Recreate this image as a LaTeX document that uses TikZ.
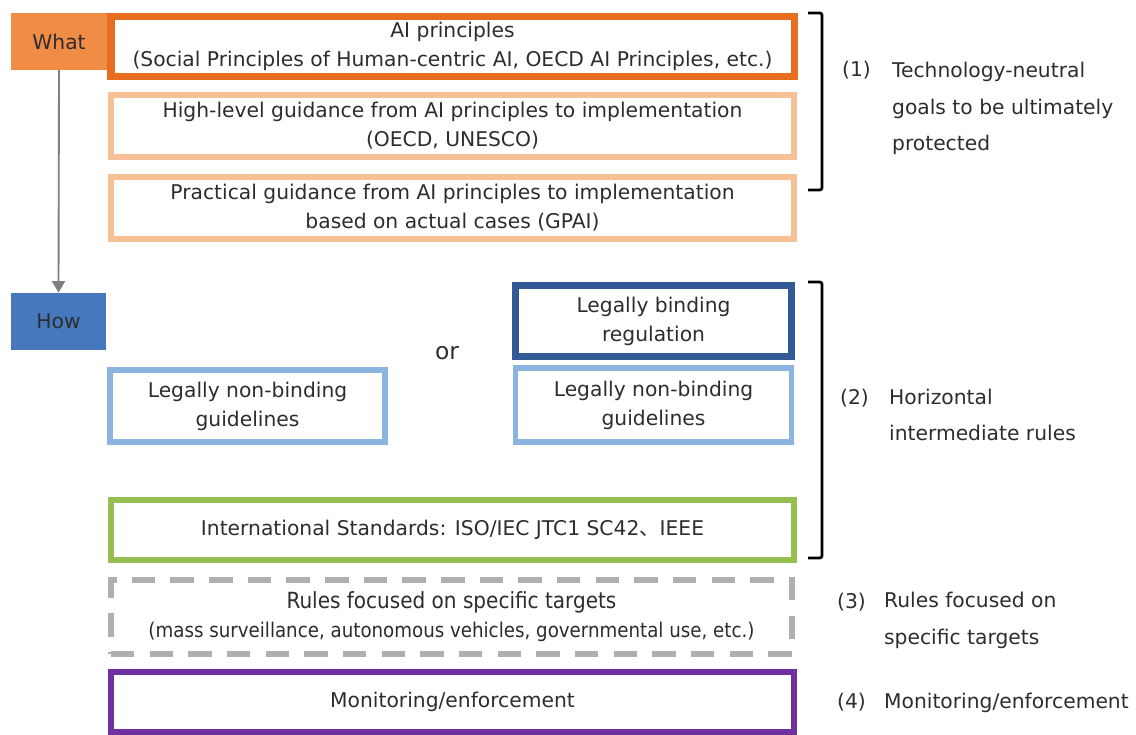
\documentclass[tikz,border=0pt]{standalone}
\usepackage{fontspec}
\setmainfont{DejaVu Sans}
\newfontfamily\condfont{DejaVu Sans Condensed}
\newfontfamily\cjk{Noto Sans CJK JP}
\usetikzlibrary{arrows.meta}
\definecolor{whatorange}{RGB}{240,140,70}
\definecolor{aiorange}{RGB}{230,110,30}
\definecolor{lightorange}{RGB}{248,192,150}
\definecolor{howblue}{RGB}{70,120,190}
\definecolor{darkblue}{RGB}{50,90,150}
\definecolor{lightblue}{RGB}{140,180,225}
\definecolor{isogreen}{RGB}{150,190,80}
\definecolor{rulegray}{RGB}{175,175,175}
\definecolor{monpurple}{RGB}{112,48,160}
\definecolor{txtgray}{RGB}{45,45,45}

\begin{document}
\begin{tikzpicture}[x=0.03cm,y=-0.03cm,line cap=butt,line join=miter,
    every node/.style={text=txtgray,font=\fontsize{17.3}{24.7}\selectfont},
    tag/.style={minimum width=2.85cm,minimum height=1.71cm,inner sep=0pt},
    box/.style={draw,fill=white,line width=5pt,align=center,inner sep=0pt},
    wide/.style={box,minimum width=20.49cm,minimum height=1.86cm},
    half/.style={box,minimum width=8.28cm,minimum height=2.2cm},
    side/.style={anchor=base west,align=left,font=\fontsize{17.3}{31.5}\selectfont}]
        \useasboundingbox (0,0) rectangle (1136,735);

        % What / How
        \node[tag,fill=whatorange] (what) at (59,41.5) {What};
        \node[tag,fill=howblue] (how) at (58.5,321.5) {How};
        \draw[gray,line width=1.6pt,-{Triangle[length=10pt,width=11pt]}] (what.south) -- (how.north);

        % Technology-neutral goals
        \node[wide,draw=aiorange,line width=6pt,minimum height=1.8cm] (ai) at (452.5,46.5)
            {AI principles\\(Social Principles of Human-centric AI, OECD AI Principles, etc.)};
        \node[wide,draw=lightorange] (high) at (452.5,126)
            {High-level guidance from AI principles to implementation\\(OECD, UNESCO)};
        \node[wide,draw=lightorange] (prac) at (452.5,208)
            {Practical guidance from AI principles to implementation\\based on actual cases (GPAI)};

        % Horizontal rules
        \node (or) at (447,353) {\fontsize{20}{22}\selectfont or};
        \node[half,draw=darkblue,line width=6pt,minimum height=2.13cm] (bind) at (653.5,321)
            {Legally binding\\regulation};
        \node[half,draw=lightblue] (nonR) at (653.5,405)
            {Legally non-binding\\guidelines};
        \node[half,draw=lightblue,minimum width=8.25cm,minimum height=2.16cm] (nonL) at (247.5,406)
            {Legally non-binding\\guidelines};
        \node[wide,draw=isogreen,minimum height=1.8cm] (iso) at (452.5,530)
            {International Standards: ISO/IEC JTC1 SC42{\cjk 、}IEEE};

        % Specific targets and enforcement
        \node[wide,draw=rulegray,dash pattern=on 20 off 13,minimum width=20.43cm,minimum height=2.22cm,
            font=\condfont\fontsize{17.3}{24.7}\selectfont] (rules) at (451.5,617)
            {{\fontsize{19}{24.7}\selectfont Rules focused on specific targets}\\(mass surveillance, autonomous vehicles, governmental use, etc.)};
        \node[wide,draw=monpurple,minimum height=1.8cm] (mon) at (452.5,702)
            {Monitoring/enforcement};

        % Brackets
        \draw[black,line width=2.4pt,rounded corners=2pt] (808,13) -- (822,13) -- (822,190) -- (808,190);
        \draw[black,line width=2.4pt,rounded corners=2pt] (808,282) -- (822,282) -- (822,558) -- (808,558);

        % Labels on the right
        \node[side] (n1) at (838,77) {(1)};
        \node[side] (l1) at (888,151) {Technology-neutral\\goals to be ultimately\\protected};
        \node[side] (n2) at (836,404) {(2)};
        \node[side] (l2) at (885,441) {Horizontal\\intermediate rules};
        \node[side] (n3) at (833,608) {(3)};
        \node[side] (l3) at (880,644) {Rules focused on\\specific targets};
        \node[side] (n4) at (833,708) {(4)};
        \node[side] (l4) at (880,708) {Monitoring/enforcement};
    \end{tikzpicture}
\end{document}
